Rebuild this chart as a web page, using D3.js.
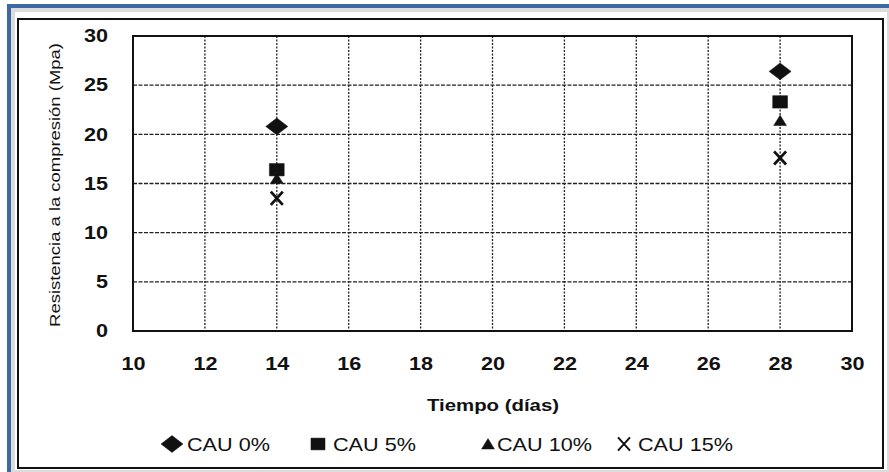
<!DOCTYPE html>
<html>
<head>
<meta charset="utf-8">
<script src="https://cdn.jsdelivr.net/npm/d3@7"></script>
<style>
  html, body { margin: 0; padding: 0; background: #ffffff; }
  svg { display: block; }
  text { font-family: "Liberation Sans", Arial, sans-serif; fill: #111; }
</style>
</head>
<body>
<svg id="chart" width="889" height="472"></svg>
<script>
// ---- data ----
const days = [14, 28];
const cau0 = [20.8, 26.4];
const cau5 = [16.4, 23.3];
const cau10 = [15.5, 21.4];
const cau15 = [13.5, 17.6];
const seriesNames = ["CAU 0%", "CAU 5%", "CAU 10%", "CAU 15%"];
const xTicks = [10, 12, 14, 16, 18, 20, 22, 24, 26, 28, 30];
const yTicks = [0, 5, 10, 15, 20, 25, 30];
const xTitle = "Tiempo (días)";
const yTitle = "Resistencia a la compresión (Mpa)";

const series = [
  { name: seriesNames[0], values: cau0, shape: "diamond" },
  { name: seriesNames[1], values: cau5, shape: "square" },
  { name: seriesNames[2], values: cau10, shape: "triangle" },
  { name: seriesNames[3], values: cau15, shape: "x" }
];

const svg = d3.select("#chart");
const SX = 1.2; // horizontal stretch of the scanned lettering

// ---- frame (scanned figure border) ----
svg.append("rect").attr("x", 0).attr("y", 0).attr("width", 889).attr("height", 472).attr("fill", "#ffffff");
svg.append("rect").attr("x", 9.5).attr("y", 6.5).attr("width", 900).attr("height", 480)
  .attr("fill", "none").attr("stroke", "#3d68a6").attr("stroke-width", 5);
svg.append("rect").attr("x", 13).attr("y", 10).attr("width", 876).attr("height", 462)
  .attr("fill", "none").attr("stroke", "#dcdcdc").attr("stroke-width", 4);
svg.append("rect").attr("x", 18).attr("y", 19).attr("width", 865).attr("height", 449)
  .attr("fill", "#ffffff").attr("stroke", "#111").attr("stroke-width", 2);

// ---- scales ----
const pL = 133, pR = 852, pT = 36, pB = 331;
const x = d3.scaleLinear().domain([10, 30]).range([pL, pR]);
const y = d3.scaleLinear().domain([0, 30]).range([pB, pT]);

// ---- grid ----
const g = svg.append("g");
g.selectAll("line.vg").data(xTicks.filter(d => d > 10 && d < 30)).join("line")
  .attr("x1", d => x(d)).attr("x2", d => x(d)).attr("y1", pT).attr("y2", pB)
  .attr("stroke", "#222").attr("stroke-width", 1.3).attr("stroke-dasharray", "2,1.5");
g.selectAll("line.hg").data(yTicks.filter(d => d > 0 && d < 30)).join("line")
  .attr("x1", pL).attr("x2", pR).attr("y1", d => y(d)).attr("y2", d => y(d))
  .attr("stroke", "#222").attr("stroke-width", 1.3).attr("stroke-dasharray", "4,1.5");

// plot border
svg.append("rect").attr("x", pL).attr("y", pT).attr("width", pR - pL).attr("height", pB - pT)
  .attr("fill", "none").attr("stroke", "#111").attr("stroke-width", 2);

// ---- axes (labels only) ----
const xAxis = svg.append("g").attr("transform", `translate(0,${pB + 26})`)
  .call(d3.axisBottom(x).tickValues(xTicks).tickSize(0).tickPadding(0).tickFormat(d3.format("d")));
xAxis.select(".domain").remove();
xAxis.selectAll("text").attr("font-size", 18).attr("font-weight", "bold")
  .attr("font-family", "Liberation Sans, Arial, sans-serif").attr("fill", "#111")
  .attr("transform", `scale(${SX},1)`);

const yAxis = svg.append("g").attr("transform", `translate(${pL - 25},0)`)
  .call(d3.axisLeft(y).tickValues(yTicks).tickSize(0).tickPadding(0).tickFormat(d3.format("d")));
yAxis.select(".domain").remove();
yAxis.selectAll("text").attr("font-size", 18).attr("font-weight", "bold")
  .attr("font-family", "Liberation Sans, Arial, sans-serif").attr("fill", "#111")
  .attr("transform", `scale(${SX},1)`);

svg.append("text").attr("transform", `translate(493,411) scale(${SX},1)`).attr("text-anchor", "middle")
  .attr("font-size", 17).attr("font-weight", "bold").text(xTitle);
svg.append("text").attr("transform", `translate(60,185) rotate(-90) scale(1.23,1)`).attr("text-anchor", "middle")
  .attr("font-size", 15).text(yTitle);

// ---- markers ----
function markerPath(shape, s) {
  const p = d3.path();
  if (shape === "diamond") {
    p.moveTo(-s * 0.55, 0); p.lineTo(0, -s * 0.42); p.lineTo(s * 0.55, 0); p.lineTo(0, s * 0.42); p.closePath();
  } else if (shape === "square") {
    p.rect(-s * 0.37, -s * 0.31, s * 0.74, s * 0.62);
  } else if (shape === "triangle") {
    p.moveTo(-s * 0.32, s * 0.25); p.lineTo(0, -s * 0.27); p.lineTo(s * 0.32, s * 0.25); p.closePath();
  } else {
    p.moveTo(-s * 0.3, -s * 0.33); p.lineTo(s * 0.3, s * 0.33);
    p.moveTo(s * 0.3, -s * 0.33); p.lineTo(-s * 0.3, s * 0.33);
  }
  return p.toString();
}

series.forEach(sr => {
  svg.append("g").selectAll("path").data(days.map((d, i) => ({ d, v: sr.values[i] }))).join("path")
    .attr("transform", p => `translate(${x(p.d)},${y(p.v)})`)
    .attr("d", markerPath(sr.shape, 20))
    .attr("fill", sr.shape === "x" ? "none" : "#111")
    .attr("stroke", "#111")
    .attr("stroke-width", sr.shape === "x" ? 2.8 : 0.5);
});

// ---- legend ----
const legendY = 444;
const legendItems = [
  { sx: 172, tx: 187, size: 20 },
  { sx: 318, tx: 333, size: 19 },
  { sx: 488, tx: 497, size: 20 },
  { sx: 624, tx: 638, size: 20 }
];
series.forEach((sr, i) => {
  const li = legendItems[i];
  svg.append("path").attr("transform", `translate(${li.sx},${legendY})`)
    .attr("d", markerPath(sr.shape, li.size))
    .attr("fill", sr.shape === "x" ? "none" : "#111")
    .attr("stroke", "#111").attr("stroke-width", sr.shape === "x" ? 2 : 0.5);
  svg.append("text").attr("transform", `translate(${li.tx},${legendY + 7}) scale(1.17,1)`)
    .attr("font-size", 18.5).text(sr.name);
});
</script>
</body>
</html>
